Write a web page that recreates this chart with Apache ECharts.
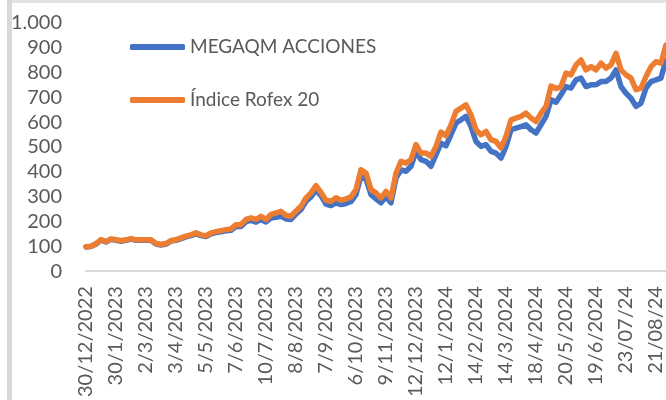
<!DOCTYPE html>
<html>
<head>
<meta charset="utf-8">
<script src="https://cdn.jsdelivr.net/npm/echarts@6/dist/echarts.min.js"></script>
<style>
  html, body { margin: 0; padding: 0; background: #fff; }
  #chart { width: 666px; height: 400px; }
</style>
</head>
<body>
<div id="chart"></div>
<script>
// tick labels on the x axis, one every 6 samples
const tickLabels = ['30/12/2022', '30/1/2023', '2/3/2023', '3/4/2023', '5/5/2023', '7/6/2023',
  '10/7/2023', '8/8/2023', '7/9/2023', '6/10/2023', '9/11/2023', '12/12/2023', '12/1/2024',
  '14/2/2024', '14/3/2024', '18/4/2024', '20/5/2024', '19/6/2024', '23/07/24', '21/08/24'];
const step = 6;

const megaqm = [97, 99, 109, 125, 117, 128, 124, 120, 124, 129, 124, 124, 124, 124, 109, 105, 109, 121, 124, 131,
  138, 143, 150, 143, 139, 150, 155, 158, 162, 164, 180, 180, 199, 204, 197, 208, 198, 214, 217, 221,
  210, 208, 230, 248, 281, 299, 326, 304, 270, 264, 275, 268, 272, 280, 308, 384, 371, 308, 291, 275,
  299, 275, 375, 408, 402, 422, 482, 449, 442, 422, 469, 515, 505, 549, 596, 609, 623, 582, 522, 502,
  509, 482, 475, 455, 502, 569, 576, 582, 589, 569, 556, 589, 623, 690, 680, 710, 743, 737, 770, 777,
  743, 750, 750, 763, 763, 777, 810, 743, 716, 696, 663, 676, 737, 763, 770, 777, 850];

const rofex = [98, 100, 111, 127, 119, 130, 126, 122, 126, 131, 126, 126, 126, 126, 111, 107, 111, 123, 126, 134,
  141, 146, 154, 146, 142, 154, 159, 163, 167, 170, 187, 187, 208, 214, 208, 221, 208, 228, 234, 241,
  224, 221, 242, 261, 295, 315, 344, 317, 285, 281, 295, 285, 291, 299, 328, 408, 395, 328, 315, 295,
  321, 295, 395, 442, 435, 449, 509, 475, 475, 462, 502, 560, 545, 589, 643, 656, 669, 629, 569, 549,
  562, 529, 522, 496, 542, 609, 616, 623, 636, 616, 602, 636, 663, 745, 735, 742, 797, 790, 830, 850,
  810, 823, 810, 837, 817, 830, 877, 810, 790, 777, 730, 737, 783, 823, 843, 837, 910];

const categories = megaqm.map((v, i) => (i % step === 0 && tickLabels[i / step]) ? tickLabels[i / step] : '');

const chart = echarts.init(document.getElementById('chart'));
const font = 'Lato';
const grey = '#595959';

chart.setOption({
  animation: false,
  color: ['#4472C4', '#ED7D31'],
  textStyle: { fontFamily: font },
  graphic: [
    { type: 'rect', shape: { x: 7, y: 0, width: 659, height: 3 }, style: { fill: '#e4e4e4' } },
    { type: 'rect', shape: { x: 7, y: 0, width: 5, height: 400 }, style: { fill: '#d9d9d9' } }
  ],
  legend: {
    orient: 'vertical',
    left: 130,
    top: 37,
    padding: 0,
    itemWidth: 55,
    itemHeight: 6,
    itemGap: 33,
    icon: 'roundRect',
    textStyle: { fontFamily: font, fontSize: 19, color: grey, lineHeight: 20 },
    data: ['MEGAQM ACCIONES', 'Índice Rofex 20']
  },
  grid: { left: 86, right: -1, top: 22.7, bottom: 128.3 },
  xAxis: {
    type: 'category',
    boundaryGap: false,
    data: categories,
    axisTick: { show: false },
    axisLine: { lineStyle: { color: '#d9d9d9', width: 2 } },
    axisLabel: {
      interval: step - 1,
      rotate: 90,
      margin: 15,
      fontFamily: font,
      fontSize: 20,
      color: grey
    }
  },
  yAxis: {
    type: 'value',
    min: 0,
    max: 1000,
    interval: 100,
    splitLine: { show: false },
    axisLine: { show: false },
    axisTick: { show: false },
    axisLabel: {
      margin: 24,
      fontFamily: font,
      fontSize: 20,
      color: grey,
      formatter: v => v >= 1000 ? '1.000' : String(v)
    }
  },
  series: [
    { name: 'MEGAQM ACCIONES', type: 'line', data: megaqm, symbol: 'none',
      lineStyle: { width: 5.5, cap: 'round', join: 'round' } },
    { name: 'Índice Rofex 20', type: 'line', data: rofex, symbol: 'none',
      lineStyle: { width: 5.5, cap: 'round', join: 'round' } }
  ]
});
</script>
</body>
</html>
